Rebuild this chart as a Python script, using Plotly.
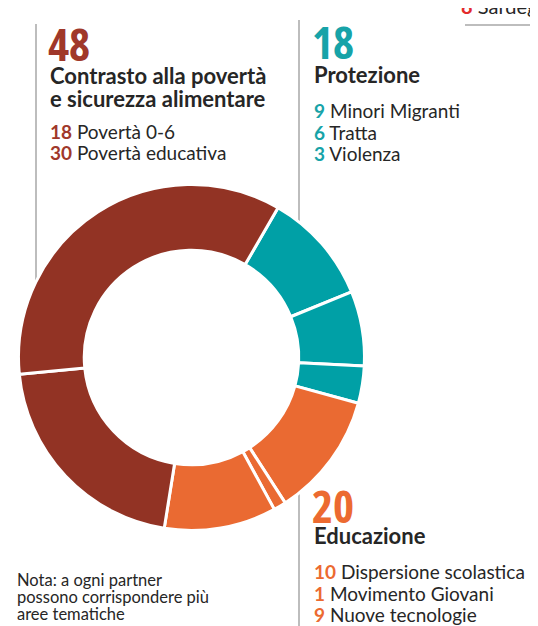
import plotly.graph_objects as go

W, H = 538, 626

# slice data, clockwise starting from the top-right teal slice
labels = ["Minori Migranti", "Tratta", "Violenza",
          "Dispersione scolastica", "Movimento Giovani", "Nuove tecnologie",
          "Povertà 0-6", "Povertà educativa"]
values = [9, 6, 3, 10, 1, 9, 18, 30]
groups = ["Protezione", "Protezione", "Protezione",
          "Educazione", "Educazione", "Educazione",
          "Contrasto", "Contrasto"]

group_colors = {"Contrasto": "#923324", "Protezione": "#00A0A6", "Educazione": "#EA6A32"}
num_colors = {"Contrasto": "#A0382A", "Protezione": "#17A3A8", "Educazione": "#EC6A30"}

group_totals = {"Contrasto": 48, "Protezione": 18, "Educazione": 20}
group_titles = {
    "Contrasto": ["Contrasto alla povertà", "e sicurezza alimentare"],
    "Protezione": ["Protezione"],
    "Educazione": ["Educazione"],
}

note_lines = ["Nota: a ogni partner", "possono corrispondere più", "aree tematiche"]

BODY = "Lato, 'Noto Sans', sans-serif"
NUM = "'Open Sans', sans-serif"
DARK = "#262626"


def px(x):
    return x / W


def py(y):
    return 1 - y / H


fig = go.Figure()

cx, cy, r = 183.5, 349.5, 173
fig.add_trace(go.Pie(
    labels=labels,
    values=values,
    sort=False,
    direction="clockwise",
    rotation=30,
    hole=0.62,
    marker=dict(colors=[group_colors[g] for g in groups], line=dict(color="white", width=3)),
    textinfo="none",
    hoverinfo="label+value",
    showlegend=False,
    domain=dict(x=[px(cx - r), px(cx + r)], y=[py(cy + r), py(cy - r)]),
))

# column divider lines
shapes = [
    dict(type="line", xref="paper", yref="paper", x0=px(28), x1=px(28), y0=py(16), y1=py(300),
         line=dict(color="#BDBDBD", width=2), layer="below"),
    dict(type="line", xref="paper", yref="paper", x0=px(291), x1=px(291), y0=py(12), y1=py(626),
         line=dict(color="#BDBDBD", width=2), layer="below"),
    dict(type="line", xref="paper", yref="paper", x0=px(457), x1=px(540), y0=py(17), y1=py(17),
         line=dict(color="#BDBDBD", width=2)),
]

annotations = []


def note(x, y, text, size, family=BODY, color=DARK, anchor="top"):
    annotations.append(dict(
        x=px(x), y=py(y), xref="paper", yref="paper", xanchor="left", yanchor=anchor,
        text=text, showarrow=False, align="left", borderpad=0,
        font=dict(family=family, size=size, color=color),
    ))


def block(group, x, y_num, y_title, y_items, items):
    col = num_colors[group]
    # condensed bold numerals (Open Sans width axis)
    note(x - 3, y_num,
         f"<span style='font-stretch:62.5%;font-weight:700'>{group_totals[group]}</span>",
         45, NUM, col)
    for i, line in enumerate(group_titles[group]):
        note(x - 1, y_title + i * 23, f"<b>{line}</b>", 22)
    for i, (v, lab) in enumerate(items):
        note(x - 1, y_items + i * 21.5,
             f"<span style='color:{col}'><b>{v}</b></span> {lab}", 19)


block("Contrasto", 42, 4, 53, 111, [(18, "Povertà 0-6"), (30, "Povertà educativa")])
block("Protezione", 306, 2, 52, 90, [(9, "Minori Migranti"), (6, "Tratta"), (3, "Violenza")])
block("Educazione", 306, 466, 513, 551,
      [(10, "Dispersione scolastica"), (1, "Movimento Giovani"), (9, "Nuove tecnologie")])

for i, line in enumerate(note_lines):
    note(8, 561 + i * 17, line, 16.5)

# partially visible label at the top right edge
note(452, 11, "<span style='color:#E32B2B'><b>8</b></span> Sardegna", 20, anchor="bottom")

fig.update_layout(
    width=W, height=H,
    margin=dict(l=0, r=0, t=0, b=0),
    paper_bgcolor="white",
    plot_bgcolor="white",
    shapes=shapes,
    annotations=annotations,
)

fig.write_html("out.html")
